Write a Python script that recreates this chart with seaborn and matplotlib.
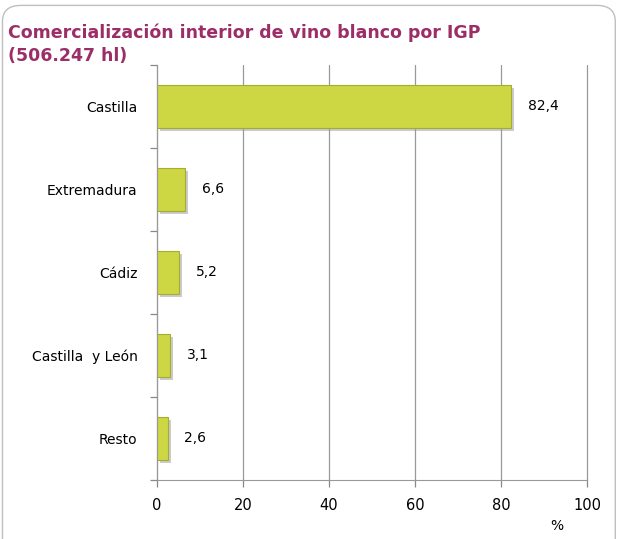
import pandas as pd
import seaborn as sns
import matplotlib.pyplot as plt
import matplotlib.patheffects as pe
from matplotlib.patches import FancyBboxPatch

regiones = ['Castilla', 'Extremadura', 'Cádiz', 'Castilla  y León', 'Resto']
porcentajes = [82.4, 6.6, 5.2, 3.1, 2.6]
etiquetas = ['82,4', '6,6', '5,2', '3,1', '2,6']

data = pd.DataFrame({'region': regiones, 'pct': porcentajes})

sns.set_style("white")
plt.rcParams['font.family'] = ['DejaVu Sans']

fig = plt.figure(figsize=(6.19, 5.39), dpi=100)
fig.patches.append(FancyBboxPatch((0.004, -0.05), 0.99, 1.04, boxstyle="round,pad=0,rounding_size=0.03",
                                  transform=fig.transFigure, facecolor='white', edgecolor='#bfbfbf', lw=1,
                                  zorder=-10))
ax = fig.add_axes([0.2536, 0.1095, 0.6947, 0.77])
ax.patch.set_alpha(0)

sns.barplot(x='pct', y='region', data=data, orient='h', color='#cdd744', width=0.52,
            edgecolor='#a3ad30', linewidth=0.8, saturation=1, ax=ax)
for bar in ax.patches:
    bar.set_path_effects([pe.SimplePatchShadow(offset=(2, -2), shadow_rgbFace='#999999', alpha=0.5), pe.Normal()])

for i, (v, t) in enumerate(zip(porcentajes, etiquetas)):
    ax.text(v + 3.8, i, t, va='center', ha='left', fontsize=10, color='black')

ax.set_xlim(0, 100)
ax.set_ylim(4.5, -0.5)
ax.set_xticks([0, 20, 40, 60, 80, 100])
ax.set_xticklabels(['0', '20', '40', '60', '80', '100'], fontsize=10.5, color='black')
ax.set_yticks(range(5))
ax.set_yticklabels(regiones, fontsize=10, color='black')
ax.set_yticks([-0.5, 0.5, 1.5, 2.5, 3.5, 4.5], minor=True)
ax.tick_params(axis='y', which='major', left=False, length=0, pad=14)
ax.tick_params(axis='y', which='minor', left=True, length=5, width=0.9, color='#888888', direction='out')
ax.tick_params(axis='x', bottom=True, length=5, width=0.9, color='#888888', direction='out', pad=8)
ax.grid(axis='x', color='#999999', lw=0.9)
for gl in ax.get_xgridlines():
    gl.set_clip_on(False)
ax.set_axisbelow(True)
for s in ['top', 'right']:
    ax.spines[s].set_visible(False)
for s in ['left', 'bottom']:
    ax.spines[s].set_color('#999999')
ax.set_xlabel('%', fontsize=10, x=0.93, labelpad=4, color='black')
ax.set_ylabel('')

fig.text(0.013, 0.918, 'Comercialización interior de vino blanco por IGP\n(506.247 hl)',
         fontsize=12.5, fontweight='bold', color='#9b2d67', va='center', ha='left', linespacing=1.4)

plt.savefig('out.png', dpi=100)
